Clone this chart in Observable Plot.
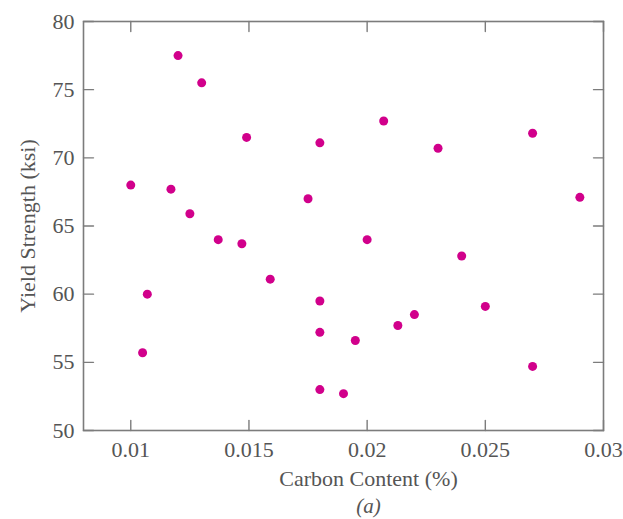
<!DOCTYPE html>
<html>
<head>
<meta charset="utf-8">
<script src="https://cdn.jsdelivr.net/npm/d3@7"></script>
<script src="https://cdn.jsdelivr.net/npm/@observablehq/plot@0.6"></script>
<style>
  html, body { margin: 0; padding: 0; background: #fff; }
  svg, svg text { font-family: "Liberation Serif", "Times New Roman", serif !important; }
</style>
</head>
<body>
<div id="chart"></div>
<script>
// Data
const carbon = [0.0100, 0.0120, 0.0130, 0.0149, 0.0117, 0.0125, 0.0137, 0.0147, 0.0175, 0.0180,
                0.0207, 0.0230, 0.0270, 0.0290, 0.0200, 0.0240, 0.0107, 0.0105, 0.0159, 0.0180,
                0.0180, 0.0180, 0.0190, 0.0195, 0.0213, 0.0220, 0.0250, 0.0270];
const strength = [68.0, 77.5, 75.5, 71.5, 67.7, 65.9, 64.0, 63.7, 67.0, 71.1,
                  72.7, 70.7, 71.8, 67.1, 64.0, 62.8, 60.0, 55.7, 61.1, 59.5,
                  57.2, 53.0, 52.7, 56.6, 57.7, 58.5, 59.1, 54.7];

const xTicks = [0.01, 0.015, 0.02, 0.025, 0.03];
const xTickLabels = ["0.01", "0.015", "0.02", "0.025", "0.03"];
const yTicks = [50, 55, 60, 65, 70, 75, 80];
const yTickLabels = ["50", "55", "60", "65", "70", "75", "80"];
const xLabel = "Carbon Content (%)";
const yLabel = "Yield Strength (ksi)";
const caption = "(a)";

const data = carbon.map((c, i) => ({carbon: c, strength: strength[i]}));

const font = "Liberation Serif";
const axisColor = "#7c7c7c";
const textColor = "#555";
const dotColor = "#d1008b";
const tickShape = {draw(context, l) { context.moveTo(0, 0); context.lineTo(0, -l); }};

const chart = Plot.plot({
  width: 623,
  height: 519,
  marginLeft: 83,
  marginRight: 20,
  marginTop: 21,
  marginBottom: 89,
  style: {fontFamily: font, fontSize: "20px", color: textColor, background: "#fff"},
  x: {domain: [0.008, 0.03]},
  y: {domain: [50, 80]},
  marks: [
    Plot.frame({stroke: axisColor, strokeWidth: 1.6}),
    Plot.vector(xTicks, {x: d => d, frameAnchor: "bottom", rotate: 0, length: 10, anchor: "start", shape: tickShape, stroke: axisColor, strokeWidth: 1.4}),
    Plot.vector(xTicks, {x: d => d, frameAnchor: "top", rotate: 180, length: 10, anchor: "start", shape: tickShape, stroke: axisColor, strokeWidth: 1.4}),
    Plot.vector(yTicks, {y: d => d, frameAnchor: "left", rotate: 90, length: 10, anchor: "start", shape: tickShape, stroke: axisColor, strokeWidth: 1.4}),
    Plot.vector(yTicks, {y: d => d, frameAnchor: "right", rotate: -90, length: 10, anchor: "start", shape: tickShape, stroke: axisColor, strokeWidth: 1.4}),
    Plot.axisX({ticks: xTicks, tickSize: 0, tickPadding: 11, tickFormat: (d, i) => xTickLabels[i], label: null, fill: textColor, fontSize: 22, fontFamily: font}),
    Plot.axisY({ticks: yTicks, tickSize: 0, tickPadding: 9, tickFormat: (d, i) => yTickLabels[i], label: null, fill: textColor, fontSize: 22, fontFamily: font}),
    Plot.text([xLabel], {text: d => d, frameAnchor: "bottom", textAnchor: "middle", lineAnchor: "middle", dx: 25, dy: 48, fontSize: 22, fill: textColor, fontFamily: font}),
    Plot.text([caption], {text: d => d, frameAnchor: "bottom", textAnchor: "middle", lineAnchor: "middle", dx: 25, dy: 76, fontSize: 21, fontStyle: "italic", fill: textColor, fontFamily: font}),
    Plot.text([yLabel], {text: d => d, frameAnchor: "left", textAnchor: "middle", lineAnchor: "middle", dx: -56, rotate: -90, fontSize: 22, fill: textColor, fontFamily: font}),
    Plot.dot(data, {x: "carbon", y: "strength", r: 4.5, fill: dotColor, stroke: null})
  ]
});
document.getElementById("chart").append(chart);
</script>
</body>
</html>
